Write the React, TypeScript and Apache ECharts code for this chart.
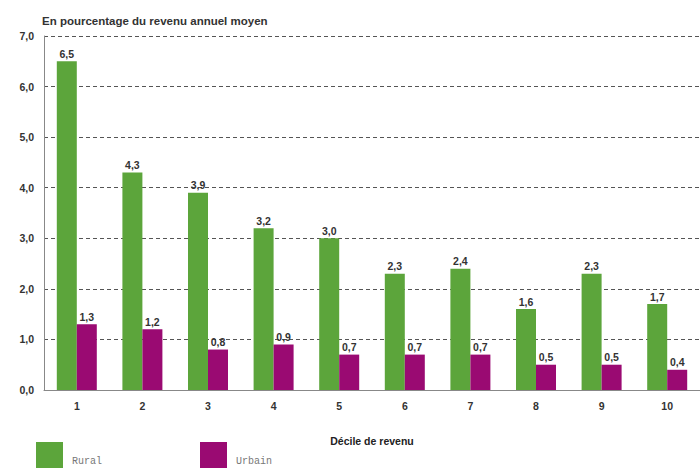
import React, { useEffect, useRef } from "react";
import * as echarts from "echarts";

const deciles = ["1", "2", "3", "4", "5", "6", "7", "8", "9", "10"];
const rural = [6.5, 4.3, 3.9, 3.2, 3.0, 2.3, 2.4, 1.6, 2.3, 1.7];
const urbain = [1.3, 1.2, 0.8, 0.9, 0.7, 0.7, 0.7, 0.5, 0.5, 0.4];
const seriesNames = ["Rural", "Urbain"];
const titleText = "En pourcentage du revenu annuel moyen";
const xAxisName = "Décile de revenu";

const fmt = (v: number) => v.toFixed(1).replace(".", ",");
const FONT = "'Liberation Sans', Arial, sans-serif";

export default function App() {
  const ref = useRef<HTMLDivElement>(null);
  useEffect(() => {
    if (!ref.current) return;
    const chart = echarts.init(ref.current, undefined, { renderer: "svg" });
    const labelStyle = {
      show: true,
      position: "top" as const,
      distance: 2,
      fontSize: 10.5,
      fontWeight: "bold" as const,
      color: "#333",
      fontFamily: FONT,
      formatter: (p: any) => fmt(p.value),
    };
    const legendBase = {
      top: 442,
      padding: 0,
      itemWidth: 27,
      itemHeight: 26,
      itemGap: 0,
      icon: "rect",
      formatter: (name: string) => `{t|${name}}`,
      textStyle: {
        fontFamily: "'Liberation Mono', monospace",
        fontSize: 10,
        color: "#777",
        rich: {
          t: {
            fontFamily: "'Liberation Mono', monospace",
            fontSize: 10,
            color: "#777",
            padding: [12, 0, 0, 4],
          },
        },
      },
    };
    chart.setOption({
      animation: false,
      backgroundColor: "#fff",
      title: {
        text: titleText,
        left: 37,
        top: 10,
        textStyle: { fontSize: 11.5, fontWeight: "bold", color: "#333", fontFamily: FONT },
      },
      legend: [
        { ...legendBase, data: [seriesNames[0]], left: 36 },
        { ...legendBase, data: [seriesNames[1]], left: 200 },
      ],
      grid: { left: 44, right: -5, top: 36, bottom: 79, containLabel: false },
      xAxis: {
        type: "category",
        data: deciles,
        name: xAxisName,
        nameLocation: "middle",
        nameGap: 45,
        nameTextStyle: { fontSize: 10.5, fontWeight: "bold", color: "#222", fontFamily: FONT },
        axisLine: { lineStyle: { color: "#888", width: 1 } },
        axisTick: { show: false },
        axisLabel: { fontSize: 10.5, fontWeight: "bold", color: "#333", fontFamily: FONT, margin: 10 },
      },
      yAxis: {
        type: "value",
        min: 0,
        max: 7,
        interval: 1,
        axisLine: { show: true, lineStyle: { color: "#888", width: 1 } },
        axisTick: { show: false },
        axisLabel: {
          fontSize: 10.5,
          fontWeight: "bold",
          color: "#333",
          fontFamily: FONT,
          margin: 10,
          formatter: (v: number) => fmt(v),
        },
        splitLine: { show: true, lineStyle: { color: "#555", type: [4, 3], width: 1 } },
      },
      series: [
        {
          name: seriesNames[0],
          type: "bar",
          data: rural,
          barWidth: 20,
          barGap: "0%",
          itemStyle: { color: "#5ca53b" },
          label: labelStyle,
        },
        {
          name: seriesNames[1],
          type: "bar",
          data: urbain,
          barWidth: 20,
          barGap: "0%",
          itemStyle: { color: "#9a0a72" },
          label: labelStyle,
        },
      ],
    });
    return () => chart.dispose();
  }, []);
  return (
    <div
      ref={ref}
      style={{ position: "fixed", left: 0, top: 0, width: 700, height: 469 }}
    />
  );
}
